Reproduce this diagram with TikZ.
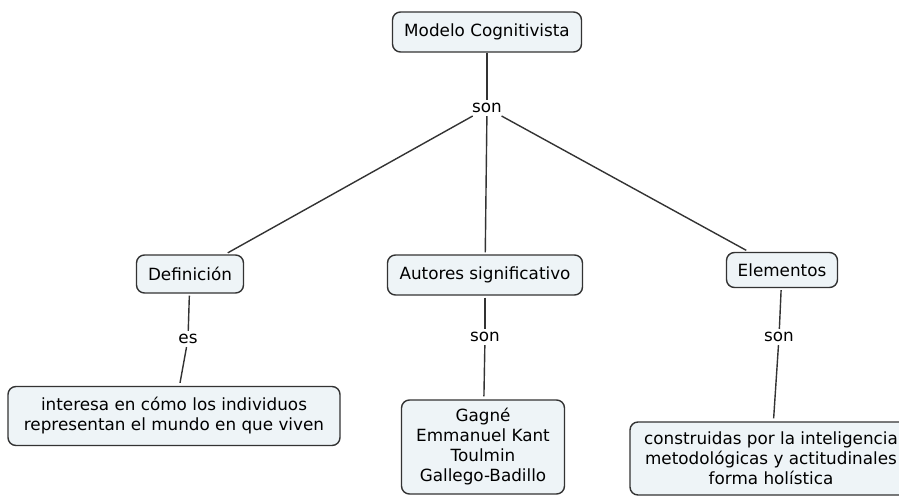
\documentclass[tikz,border=0pt]{standalone}
\usepackage{fontspec}
\setmainfont{DejaVu Sans}
\definecolor{boxfill}{HTML}{EEF4F7}
\definecolor{edge}{HTML}{333333}
\begin{document}
\begin{tikzpicture}[x=1pt,y=-1pt,
  concept/.style={draw=edge, line width=1.4pt, fill=boxfill, rounded corners=8pt,
    align=center, inner sep=0pt, font=\fontsize{16.8}{20}\selectfont},
  linklabel/.style={inner sep=3pt, font=\fontsize{16.8}{20}\selectfont},
  conn/.style={draw=edge, line width=1.4pt}]
\useasboundingbox (0,0) rectangle (899,497);
\clip (0,0) rectangle (899,497);
\node[concept, minimum width=189pt, minimum height=40pt] (top) at (487,32) {Modelo Cognitivista};
\node[linklabel] (son1) at (487,108) {son};
\node[concept, minimum width=107pt, minimum height=38pt] (def) at (190,274) {Definición};
\node[concept, minimum width=195pt, minimum height=40pt] (aut) at (485,275) {Autores significativo};
\node[concept, minimum width=111pt, minimum height=35pt] (ele) at (782,270) {Elementos};
\node[linklabel] (es) at (188,339) {es};
\node[linklabel] (son2) at (485,337) {son};
\node[linklabel] (son3) at (779,337) {son};
\node[concept, minimum width=332pt, minimum height=59pt] (int) at (174,416) {interesa en cómo los individuos\\representan el mundo en que viven};
\node[concept, minimum width=163pt, minimum height=94pt] (gag) at (483,447) {Gagné\\Emmanuel Kant\\Toulmin\\Gallego-Badillo};
\node[concept, minimum width=282pt, minimum height=73pt] (con) at (771,458.5) {construidas por la inteligencia\\metodológicas y actitudinales\\forma holística};
\draw[conn] (top) -- (son1);
\draw[conn, shorten >=3pt] (son1) -- (def);
\draw[conn, shorten >=2pt] (son1) -- (aut);
\draw[conn, shorten >=3pt] (son1) -- (ele);
\draw[conn, shorten <=2pt] (def) -- (es);
\draw[conn, shorten >=3pt] (es) -- (int);
\draw[conn, shorten <=2pt] (aut) -- (son2);
\draw[conn, shorten >=3pt] (son2) -- (gag);
\draw[conn, shorten <=2pt] (ele) -- (son3);
\draw[conn, shorten >=3pt] (son3) -- (con);
\end{tikzpicture}
\end{document}
